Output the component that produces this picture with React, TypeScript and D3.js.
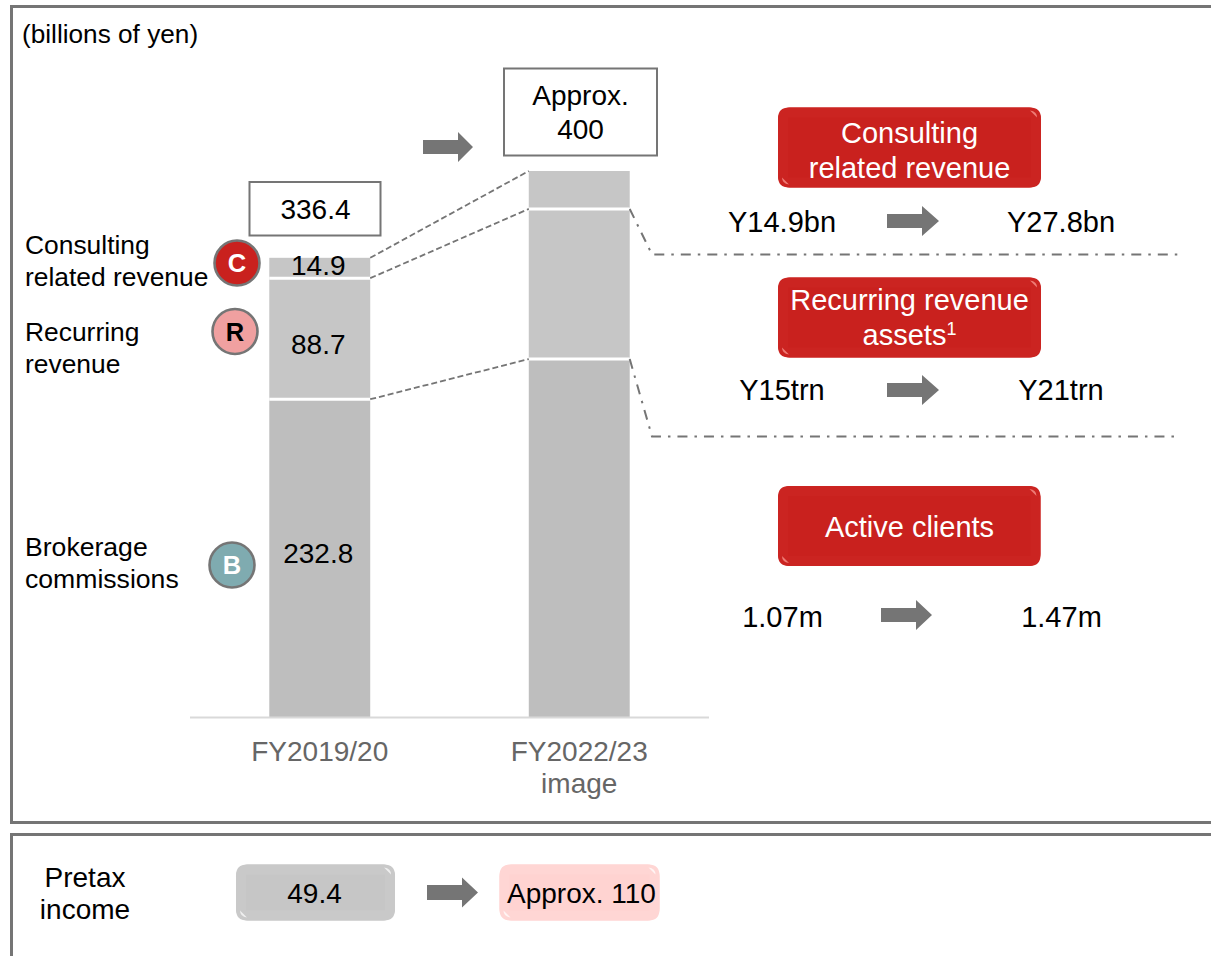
import React from "react";
import * as d3 from "d3";

// Revenue build-up, billions of yen
const fiscalYears = ["FY2019/20", "FY2022/23"];
const brokerage = [232.8, 262.2];
const recurring = [88.7, 110];
const consulting = [14.9, 27.8];
const segmentKeys = ["brokerage", "recurring", "consulting"];
const segmentFills = ["#bebebe", "#c6c6c6", "#c6c6c6"];
const segmentValueLabels = ["232.8", "88.7", "14.9"];
const segmentLabelBaselines = [563, 354, 275];

const FONT = "'Liberation Sans', Arial, sans-serif";
const GREY = "#757575";
const RED = "#c9211e";

const rows = fiscalYears.map((year, i) => ({
  year,
  brokerage: brokerage[i],
  recurring: recurring[i],
  consulting: consulting[i],
}));
const stacked = d3.stack<any>().keys(segmentKeys)(rows);

const x = d3
  .scaleBand<string>()
  .domain(fiscalYears)
  .range([190, 709])
  .paddingInner(0.611)
  .paddingOuter(0.3055);
const y = d3.scaleLinear().domain([0, 400]).range([717, 171]);

const barLeft = (i: number) => x(fiscalYears[i]) as number;
const barRight = (i: number) => barLeft(i) + x.bandwidth();
const barCentre = (i: number) => barLeft(i) + x.bandwidth() / 2;

// Block arrow pointing right
function Arrow({ x0, x1, neck, cy, shaft, head }: any) {
  const points = [
    [x0, cy - shaft / 2],
    [neck, cy - shaft / 2],
    [neck, cy - head / 2],
    [x1, cy],
    [neck, cy + head / 2],
    [neck, cy + shaft / 2],
    [x0, cy + shaft / 2],
  ];
  return <polygon points={points.map((p) => p.join(",")).join(" ")} fill={GREY} />;
}

// Rounded button with a soft bevelled rim and two corner glints
function Bevel({ x0, y0, w, h, fill, rim, glint }: any) {
  const x1 = x0 + w;
  const y1 = y0 + h;
  const inset = 10;
  const ring =
    `M${x0 + 11},${y0} H${x1 - 11} Q${x1},${y0} ${x1},${y0 + 11} V${y1 - 11} Q${x1},${y1} ${x1 - 11},${y1} ` +
    `H${x0 + 11} Q${x0},${y1} ${x0},${y1 - 11} V${y0 + 11} Q${x0},${y0} ${x0 + 11},${y0} Z ` +
    `M${x0 + inset},${y0 + inset} V${y1 - inset} H${x1 - inset} V${y0 + inset} Z`;
  return (
    <g>
      <rect x={x0} y={y0} width={w} height={h} rx={12} fill={fill} />
      <path d={ring} fill={rim} fillRule="evenodd" />
      <path d={`M${x1 - 11},${y0 + 3} L${x1 - 4},${y0 + 10} Q${x1 - 4},${y0 + 4} ${x1 - 11},${y0 + 3} Z`} fill={glint} />
      <path d={`M${x0 + 11},${y1 - 3} L${x0 + 4},${y1 - 10} Q${x0 + 4},${y1 - 4} ${x0 + 11},${y1 - 3} Z`} fill={glint} />
    </g>
  );
}

function Label({ tx, ty, size = 28, anchor = "middle", fill = "#000", weight, children }: any) {
  return (
    <text x={tx} y={ty} fontSize={size} textAnchor={anchor} fill={fill} fontWeight={weight}>
      {children}
    </text>
  );
}

function Badge({ cx, cy, fill, letter, color }: any) {
  return (
    <g>
      <circle cx={cx} cy={cy} r={22.5} fill={fill} stroke={GREY} strokeWidth={2.6} />
      <Label tx={cx} ty={cy + 9} size={25.5} weight="bold" fill={color}>
        {letter}
      </Label>
    </g>
  );
}

export default function App() {
  // Cumulative tops of each stacked segment, used for the connector lines
  const top = (seg: number, bar: number) => y(stacked[seg][bar][1]);

  return (
    <svg
      width={1211}
      height={956}
      viewBox="0 0 1211 956"
      fontFamily={FONT}
      style={{ position: "fixed", left: 0, top: 0, background: "#fff" }}
    >
      {/* Panel frames run off the right edge */}
      <path d="M1211,6.5 H11.5 V822.5 H1211" fill="none" stroke={GREY} strokeWidth={3} />
      <path d="M1211,834.5 H11.5 V956" fill="none" stroke={GREY} strokeWidth={3} />

      <Label tx={22} ty={43} size={26.2} anchor="start">(billions of yen)</Label>

      {/* Stacked bars */}
      {stacked.map((series, s) =>
        series.map((d, i) => (
          <rect
            key={`${s}-${i}`}
            x={barLeft(i)}
            y={y(d[1])}
            width={x.bandwidth()}
            height={y(d[0]) - y(d[1])}
            fill={segmentFills[s]}
          />
        ))
      )}
      {/* White separators between segments */}
      {stacked.slice(0, 2).map((series, s) =>
        series.map((d, i) => (
          <line
            key={`sep-${s}-${i}`}
            x1={barLeft(i)}
            x2={barRight(i)}
            y1={y(d[1])}
            y2={y(d[1])}
            stroke="#fff"
            strokeWidth={3}
          />
        ))
      )}

      <line x1={190} x2={709} y1={717.5} y2={717.5} stroke="#d9d9d9" strokeWidth={2} />

      {/* Dashed links between the two bars */}
      {[2, 1, 0].map((s) => (
        <line
          key={`link-${s}`}
          x1={barRight(0)}
          y1={top(s, 0)}
          x2={barLeft(1)}
          y2={top(s, 1)}
          stroke={GREY}
          strokeWidth={1.8}
          strokeDasharray="6 3"
        />
      ))}

      {/* Dash-dot callout rules */}
      <path
        d={`M${barRight(1)},${top(1, 1)} L652,254.5 H1178`}
        fill="none"
        stroke={GREY}
        strokeWidth={2}
        strokeDasharray="10 7 2.5 7"
      />
      <path
        d={`M${barRight(1)},${top(0, 1)} L652,436.5 H1175`}
        fill="none"
        stroke={GREY}
        strokeWidth={2}
        strokeDasharray="10 7 2.5 7"
      />

      {/* Values on the first bar */}
      {segmentValueLabels.map((v, s) => (
        <Label key={v} tx={barCentre(0) - 1.5} ty={segmentLabelBaselines[s]}>
          {v}
        </Label>
      ))}

      {/* Totals */}
      <rect x={249.5} y={182} width={131} height={53.5} fill="#fff" stroke={GREY} strokeWidth={2} />
      <Label tx={315.5} ty={219}>336.4</Label>
      <rect x={504} y={68.5} width={153} height={87} fill="#fff" stroke={GREY} strokeWidth={2} />
      <Label tx={580.5} ty={105}>Approx.</Label>
      <Label tx={580.5} ty={139}>400</Label>
      <Arrow x0={423} x1={473} neck={458} cy={147} shaft={14} head={30} />

      {/* Category captions */}
      <Label tx={barCentre(0)} ty={761} fill="#666">{fiscalYears[0]}</Label>
      <Label tx={barCentre(1)} ty={761} fill="#666">{fiscalYears[1]}</Label>
      <Label tx={barCentre(1)} ty={793} fill="#666">image</Label>

      {/* Segment names */}
      <Label tx={25} ty={254} size={26.4} anchor="start">Consulting</Label>
      <Label tx={25} ty={286} size={26.4} anchor="start">related revenue</Label>
      <Label tx={25} ty={341} size={26.4} anchor="start">Recurring</Label>
      <Label tx={25} ty={373} size={26.4} anchor="start">revenue</Label>
      <Label tx={25} ty={556} size={26.6} anchor="start">Brokerage</Label>
      <Label tx={25} ty={588} size={26.6} anchor="start">commissions</Label>

      <Badge cx={237} cy={263} fill={RED} letter="C" color="#fff" />
      <Badge cx={235} cy={331.5} fill="#f0a0a0" letter="R" color="#000" />
      <Badge cx={232} cy={565} fill="#7fabb0" letter="B" color="#fff" />

      {/* KPI panels */}
      <Bevel x0={778} y0={107.5} w={263} h={80} fill={RED} rim="#cb2421" glint="#ee7b75" />
      <Label tx={909.5} ty={143} size={29} fill="#fff">Consulting</Label>
      <Label tx={909.5} ty={177.5} size={29} fill="#fff">related revenue</Label>
      <Label tx={782} ty={232} size={29}>Y14.9bn</Label>
      <Arrow x0={887} x1={939} neck={922} cy={221} shaft={14} head={30} />
      <Label tx={1061} ty={232} size={29}>Y27.8bn</Label>

      <Bevel x0={778} y0={277.5} w={263} h={80} fill={RED} rim="#cb2421" glint="#ee7b75" />
      <Label tx={909.5} ty={310} size={29} fill="#fff">Recurring revenue</Label>
      <text x={909.5} y={345} fontSize={29} textAnchor="middle" fill="#fff">
        assets<tspan fontSize={18} dy={-10}>1</tspan>
      </text>
      <Label tx={782} ty={400} size={29}>Y15trn</Label>
      <Arrow x0={887} x1={939} neck={922} cy={390} shaft={14} head={30} />
      <Label tx={1061} ty={400} size={29}>Y21trn</Label>

      <Bevel x0={778} y0={486} w={262.5} h={80} fill={RED} rim="#cb2421" glint="#ee7b75" />
      <Label tx={909.5} ty={537} size={29} fill="#fff">Active clients</Label>
      <Label tx={782.5} ty={627} size={29}>1.07m</Label>
      <Arrow x0={881} x1={932} neck={916} cy={615} shaft={14} head={30} />
      <Label tx={1061.5} ty={627} size={29}>1.47m</Label>

      {/* Pretax income panel */}
      <Label tx={85} ty={887} size={28}>Pretax</Label>
      <Label tx={85} ty={919} size={28}>income</Label>
      <Bevel x0={236} y0={864.5} w={159} h={56} fill="#c6c6c6" rim="#c9c9c9" glint="#efefef" />
      <Label tx={314.5} ty={903}>49.4</Label>
      <Arrow x0={427} x1={478} neck={462} cy={892.5} shaft={15} head={30} />
      <Bevel x0={499.5} y0={864.5} w={160} h={56} fill="#ffd3d1" rim="#ffd6d4" glint="#fff4f3" />
      <Label tx={581.5} ty={903} size={28}>Approx. 110</Label>
    </svg>
  );
}
